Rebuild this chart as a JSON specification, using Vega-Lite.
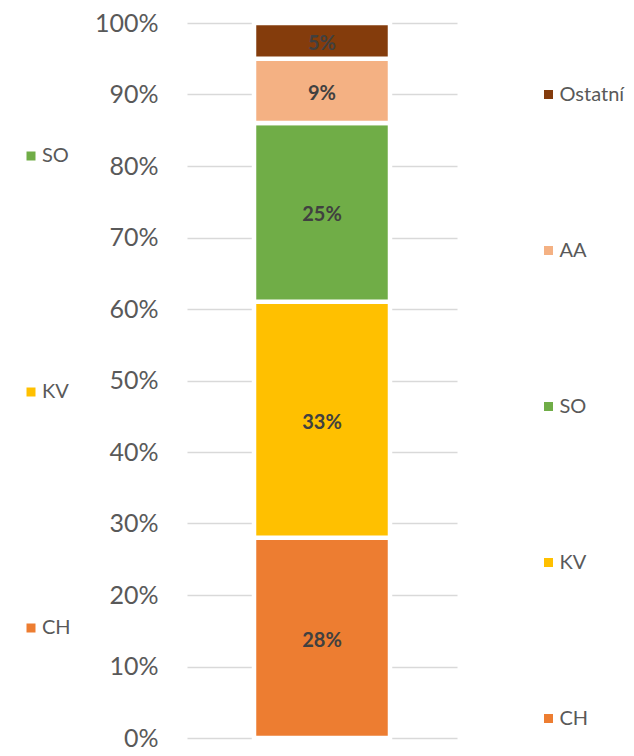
{
  "$schema": "https://vega.github.io/schema/vega-lite/v6.json",
  "width": 270,
  "height": 715,
  "autosize": "none",
  "padding": {"left": 187, "top": 23, "right": 177, "bottom": 18},
  "background": "white",
  "config": {
    "view": {"stroke": null},
    "font": "Lato",
    "legend": {
      "orient": "none",
      "title": null,
      "padding": 0,
      "symbolType": "square",
      "symbolSize": 81,
      "symbolStrokeWidth": 0,
      "symbolOpacity": 1,
      "labelFont": "Lato",
      "labelFontSize": 20,
      "labelColor": "#595959",
      "labelOffset": 1,
      "labelLimit": 200
    }
  },
  "data": {
    "values": [
      {"cat": "CH", "v": 0.28, "o": 1, "g": "A"},
      {"cat": "KV", "v": 0.33, "o": 2, "g": "A"},
      {"cat": "SO", "v": 0.25, "o": 3, "g": "A"},
      {"cat": "AA", "v": 0.09, "o": 4, "g": "A"},
      {"cat": "Ostatní", "v": 0.05, "o": 5, "g": "A"}
    ]
  },
  "encoding": {
    "x": {"field": "g", "type": "nominal", "axis": null}
  },
  "layer": [
    {
      "mark": {"type": "bar", "width": 136, "stroke": "white", "strokeWidth": 4.5},
      "encoding": {
        "y": {
          "field": "v", "type": "quantitative", "stack": "zero",
          "scale": {"domain": [0, 1], "nice": false},
          "axis": {
            "format": ".0%", "values": [0, 0.1, 0.2, 0.3, 0.4, 0.5, 0.6, 0.7, 0.8, 0.9, 1],
            "domain": false, "ticks": false, "title": null,
            "labelFont": "Lato", "labelFontSize": 25, "labelColor": "#595959",
            "labelPadding": 29, "grid": true, "gridColor": "#D9D9D9", "gridWidth": 1.5
          }
        },
        "order": {"field": "o", "type": "quantitative"},
        "color": {
          "field": "cat", "type": "nominal",
          "scale": {
            "domain": ["CH", "KV", "SO", "AA", "Ostatní"],
            "range": ["#ED7D31", "#FFC000", "#70AD47", "#F4B183", "#843C0C"]
          },
          "legend": {
            "values": ["Ostatní", "AA", "SO", "KV", "CH"],
            "legendX": 351.5, "legendY": 61.5, "rowPadding": 136
          }
        }
      }
    },
    {
      "mark": {"type": "text", "font": "Lato", "fontWeight": "bold", "fontSize": 20, "color": "#404040", "baseline": "middle", "dy": 3},
      "encoding": {
        "y": {"field": "v", "type": "quantitative", "stack": "zero", "bandPosition": 0.5},
        "order": {"field": "o", "type": "quantitative"},
        "text": {"field": "v", "type": "quantitative", "format": ".0%"}
      }
    },
    {
      "transform": [{"filter": "datum.o <= 3"}],
      "mark": {"type": "point", "filled": true, "shape": "square", "opacity": 0, "size": 1},
      "encoding": {
        "y": {"field": "v", "type": "quantitative"},
        "fill": {
          "field": "cat", "type": "nominal",
          "scale": {"domain": ["SO", "KV", "CH"], "range": ["#70AD47", "#FFC000", "#ED7D31"]},
          "legend": {"legendX": -166, "legendY": 123, "rowPadding": 216}
        }
      }
    }
  ]
}
